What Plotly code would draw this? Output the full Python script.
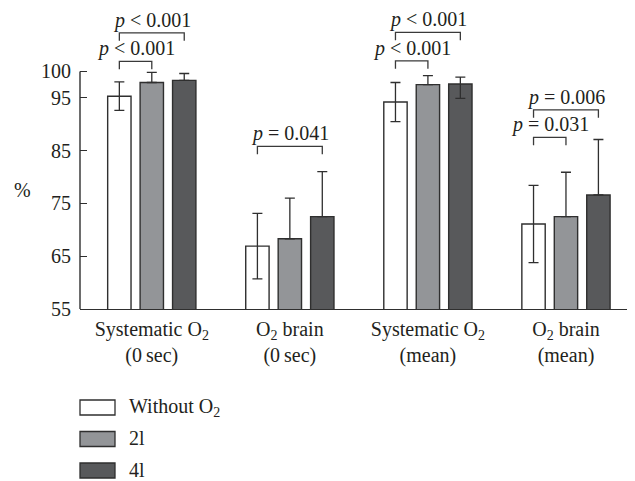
import plotly.graph_objects as go

# ---- data ----
categories = ["Systematic O<sub>2</sub><br>(0\u2009sec)", "O<sub>2</sub> brain<br>(0\u2009sec)",
              "Systematic O<sub>2</sub><br>(mean)", "O<sub>2</sub> brain<br>(mean)"]
series_names = ["Without O<sub>2</sub>", "2l", "4l"]
without_o2 = [95.3, 66.9, 94.2, 71.1]
without_o2_err_plus = [2.7, 6.2, 3.7, 7.3]
without_o2_err_minus = [2.7, 6.2, 3.7, 7.3]
two_l = [97.9, 68.3, 97.5, 72.5]
two_l_err_plus = [1.9, 7.7, 1.7, 8.4]
two_l_err_minus = [0, 0, 0, 0]
four_l = [98.3, 72.5, 97.6, 76.6]
four_l_err_plus = [1.3, 8.5, 1.3, 10.5]
four_l_err_minus = [0, 0, 2.7, 0]
y_ticks = [55, 65, 75, 85, 95, 100]
# significance brackets: (group, from series, to series, level, label)
brackets = [
    (0, 0, 1, 101.9, "<i>p</i> < 0.001"),
    (0, 0, 2, 107.3, "<i>p</i> < 0.001"),
    (1, 0, 2, 85.8, "<i>p</i> = 0.041"),
    (2, 0, 1, 102.0, "<i>p</i> < 0.001"),
    (2, 0, 2, 107.4, "<i>p</i> < 0.001"),
    (3, 0, 1, 87.5, "<i>p</i> = 0.031"),
    (3, 0, 2, 92.7, "<i>p</i> = 0.006"),
]

colors = ["#ffffff", "#939598", "#58595b"]
edge = "#2f2f2f"
FONT = "Liberation Serif"
TXT = "#231f20"
FS = 20

OFF = 8  # page body margin
W, H = 635 - OFF, 481 - OFF
ML, MR, MT, MB = 72, 0, 0, 172
PW, PH = W - ML - MR, H - MT - MB
BARGAP, GROUPGAP = 0.295, 0.28
slot = (1 - BARGAP) / 3

fig = go.Figure()
vals = [without_o2, two_l, four_l]
eplus = [without_o2_err_plus, two_l_err_plus, four_l_err_plus]
eminus = [without_o2_err_minus, two_l_err_minus, four_l_err_minus]
for i in range(3):
    fig.add_trace(go.Bar(
        x=categories, y=vals[i], name=series_names[i],
        marker=dict(color=colors[i], line=dict(color=edge, width=1.4)),
        error_y=dict(type="data", symmetric=False, array=eplus[i], arrayminus=eminus[i],
                     color=edge, thickness=1.3, width=5),
        showlegend=False,
    ))

shapes = []
annotations = []
shapes.append(dict(type="line", xref="paper", yref="y", x0=0, x1=0, y0=55, y1=100,
                   line=dict(color=edge, width=1.4)))
leg = 1.5
for g, a, b, lvl, txt in brackets:
    xa = g + (a - 1) * slot
    xb = g + (b - 1) * slot
    shapes.append(dict(type="path", xref="x", yref="y",
                       path=f"M {xa},{lvl-leg} L {xa},{lvl} L {xb},{lvl} L {xb},{lvl-leg}",
                       line=dict(color="#3a3a3a", width=1.3)))
    annotations.append(dict(x=(xa + xb) / 2, y=lvl, xref="x", yref="y", text=txt,
                            showarrow=False, yanchor="bottom", yshift=-1,
                            font=dict(family=FONT, size=FS, color=TXT)))


def px2paper(xp, yp):
    fx, fy = xp - OFF, yp - OFF
    return (fx - ML) / PW, (PH - (fy - MT)) / PH


px, py = px2paper(22, 190)
annotations.append(dict(x=px, y=py, xref="paper", yref="paper", text="%",
                        showarrow=False, xanchor="center", yanchor="middle",
                        font=dict(family=FONT, size=FS, color=TXT)))

# legend (manual, to match large swatches)
for i, name in enumerate(series_names):
    top = 400 + 31.5 * i
    x0, y1 = px2paper(80, top)
    x1, y0 = px2paper(115, top + 15)
    shapes.append(dict(type="rect", xref="paper", yref="paper", x0=x0, x1=x1, y0=y0, y1=y1,
                       fillcolor=colors[i], line=dict(color=edge, width=1.3)))
    tx, ty = px2paper(128, top + 7)
    annotations.append(dict(x=tx, y=ty, xref="paper", yref="paper", text=name, showarrow=False,
                            xanchor="left", yanchor="middle", borderpad=0,
                            font=dict(family=FONT, size=FS, color=TXT)))

fig.update_layout(
    width=W, height=H, margin=dict(l=ML, r=MR, t=MT, b=MB),
    paper_bgcolor="white", plot_bgcolor="white",
    barmode="group", bargap=BARGAP, bargroupgap=GROUPGAP,
    shapes=shapes, annotations=annotations,
    xaxis=dict(range=[-0.52, 3.5], ticks="", showgrid=False, automargin=False,
               zeroline=False, showline=True, linecolor=edge, linewidth=1.4,
               ticklabelstandoff=2,
               tickfont=dict(family=FONT, size=FS, color=TXT)),
    yaxis=dict(range=[55, 55 + PH / 5.28], tickvals=y_ticks, ticks="inside", ticklen=7,
               tickcolor=edge, tickwidth=1.3, showgrid=False, zeroline=False, showline=False,
               ticklabelstandoff=8, automargin=False,
               tickfont=dict(family=FONT, size=FS, color=TXT)),
)

fig.write_html("out.html")
